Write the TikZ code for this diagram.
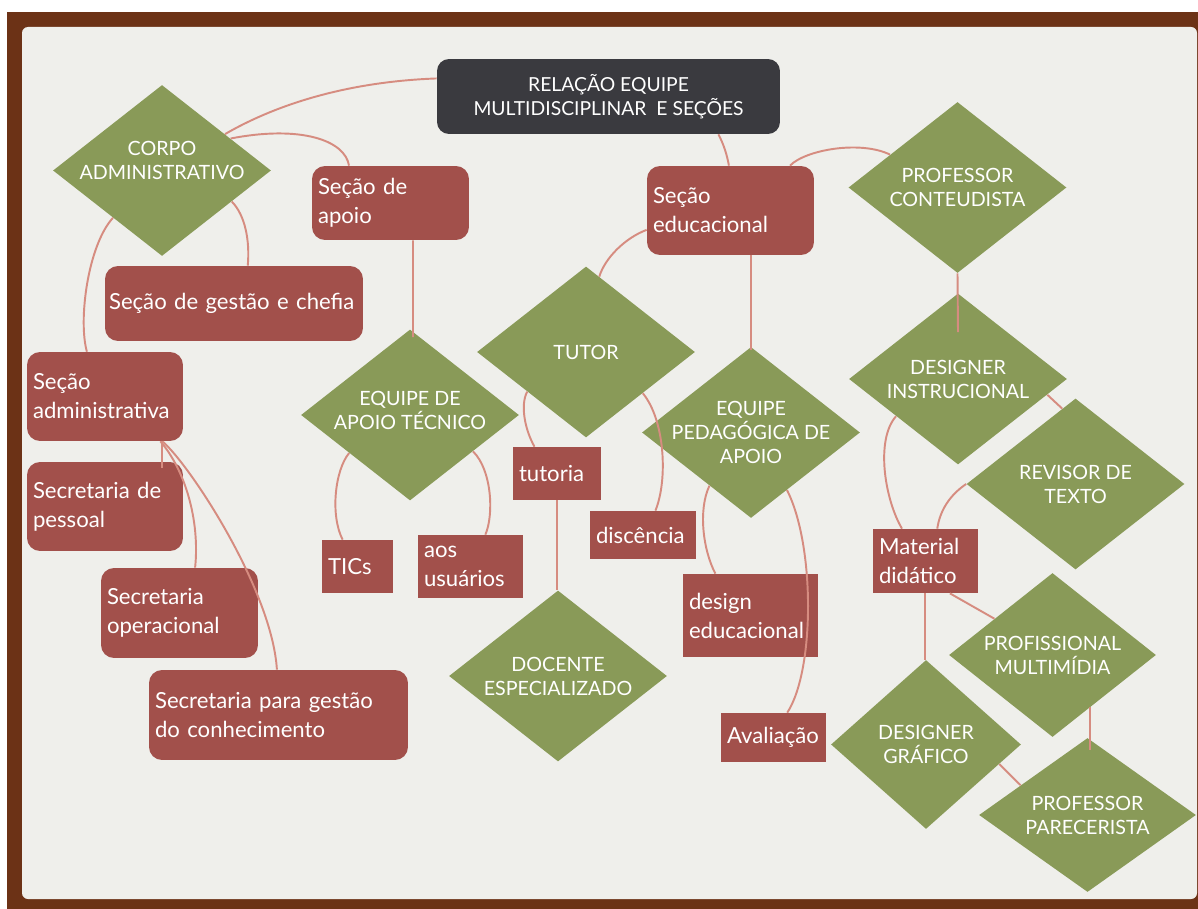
\documentclass[tikz,border=0pt]{standalone}
\usepackage{fontspec}
\setmainfont{Lato}
\usetikzlibrary{shapes.geometric}
\definecolor{frame}{RGB}{108,50,22}
\definecolor{paper}{RGB}{239,239,235}
\definecolor{olivebox}{RGB}{137,154,88}
\definecolor{redbox}{RGB}{162,80,75}
\definecolor{titlebox}{RGB}{58,58,63}
\definecolor{linkc}{RGB}{214,140,128}
\hyphenpenalty=10000

\begin{document}
\begin{tikzpicture}[
  x=0.02cm, y=-0.02cm,
  title/.style={rectangle, rounded corners=0.24cm, fill=titlebox, text=white, align=center,
                minimum width=6.86cm, minimum height=1.5cm, font=\fontsize{11}{13.5}\selectfont},
  role/.style={diamond, aspect=1.27, fill=olivebox, text=white, inner sep=-0.2cm, align=center,
               minimum width=4.36cm, minimum height=3.42cm, font=\fontsize{11.2}{13.7}\selectfont},
  sec/.style={rectangle, rounded corners=0.26cm, fill=redbox, text=white, align=left,
              inner xsep=0.12cm, inner ysep=0pt, text width=#1, font=\fontsize{12.6}{16.5}\selectfont},
  item/.style={sec=#1, sharp corners},
  link/.style={draw=linkc, line width=1.1pt},
]
\useasboundingbox (0,0) rectangle (1198,909);

% ---- board ----------------------------------------------------------------
\fill[white] (0,0) rectangle (1198,909);
\fill[frame] (7,12) rectangle (1198,909);
\fill[paper, rounded corners=0.12cm] (22,27) rectangle (1197,899);

% ---- roles and sections ---------------------------------------------------
\node[title] (titulo) at (608.5,96.5) {RELAÇÃO EQUIPE\\ MULTIDISCIPLINAR~~E SEÇÕES};

\node[role, text depth=0.4cm] (corpo) at (162,170.5) {CORPO\\ ADMINISTRATIVO};
\node[role] (conteud)  at (957.5,187.5){PROFESSOR\\ CONTEUDISTA};
\node[role, text depth=0.2cm] (apoiotec) at (410,415) {EQUIPE DE\\ APOIO TÉCNICO};
\node[role] (tutor)    at (586,352)    {TUTOR};
\node[role] (pedag)    at (751,432.5)  {EQUIPE\\ PEDAGÓGICA DE\\ APOIO};
\node[role] (instr)    at (958,379)    {DESIGNER\\ INSTRUCIONAL};
\node[role] (revisor)  at (1075.5,484) {REVISOR DE\\ TEXTO};
\node[role] (docente)  at (558,676)    {DOCENTE\\ ESPECIALIZADO};
\node[role, minimum width=4.14cm, minimum height=3.28cm] (multimidia) at (1052.5,655) {PROFISSIONAL\\ MULTIMÍDIA};
\node[role, aspect=1.12, minimum width=3.8cm, minimum height=3.38cm] (grafico) at (926,744.5) {DESIGNER\\ GRÁFICO};
\node[role, aspect=1.41, minimum width=4.34cm, minimum height=3.08cm] (parecer) at (1087.5,815) {PROFESSOR\\ PARECERISTA};

\node[sec=2.90cm, minimum height=1.48cm] (apoio)   at (390.5,203)  {Seção de\\ apoio};
\node[sec=3.10cm, minimum height=1.78cm] (educ)    at (730.5,210.5){Seção\\ educacional};
\node[sec=5.00cm, inner xsep=0.08cm, minimum height=1.50cm] (gestao) at (234,303.5) {Seção de gestão e chefia};
\node[sec=2.88cm, minimum height=1.78cm] (adm)     at (105,396.5)  {Seção\\ administrativa};
\node[sec=2.88cm, minimum height=1.78cm] (pessoal) at (105,506.5)  {Secretaria de\\ pessoal};
\node[sec=2.90cm, minimum height=1.80cm] (oper)    at (179.5,613)  {Secretaria\\ operacional};
\node[sec=4.94cm, minimum height=1.80cm] (conhec)  at (278.5,715)  {Secretaria para gestão\\ do conhecimento};

\node[item=1.52cm, minimum height=1.06cm] (tutoria)  at (557,473.5)  {tutoria};
\node[item=1.88cm, minimum height=0.96cm] (disc)     at (643,535)    {discência};
\node[item=1.18cm, minimum height=1.06cm] (tics)     at (357.5,566.5){TICs};
\node[item=1.86cm, minimum height=1.26cm] (usuarios) at (470.5,566.5){aos\\ usuários};
\node[item=2.46cm, minimum height=1.66cm] (design)   at (750.5,615.5){design\\ educacional};
\node[item=1.86cm, minimum height=0.98cm] (aval)     at (773.5,737.5){Avaliação};
\node[item=1.86cm, minimum height=1.28cm] (material) at (925.5,561)  {Material\\ didático};

% ---- links ----------------------------------------------------------------
\draw[link] (titulo.174) .. controls (340,82) and (270,108) .. (corpo.30);
\draw[link] (corpo.25) .. controls (300,125) and (345,140) .. (apoio.138);
\draw[link] (corpo.-24) .. controls (245,215) and (250,240) .. (gestao.70);
\draw[link] (corpo.224) .. controls (88,245) and (78,320) .. (adm.112);
\draw[link] (titulo.-19) .. controls (724,145) and (727,155) .. (educ.92);
\draw[link] (educ.37) .. controls (805,150) and (860,140) .. (conteud.154);

\draw[link] ([xshift=0.45cm]apoio.south) -- ([xshift=0.06cm,yshift=-0.16cm]apoiotec.north);
\draw[link] (educ.193) .. controls (625,238) and (605,258) .. (tutor.80);
\draw[link] (educ.south -| pedag.north) -- ([yshift=-0.06cm]pedag.north);
\draw[link] (conteud.south) -- ([yshift=-0.78cm]instr.north);

\draw[link] ([xshift=1.14cm]adm.south) -- ([xshift=1.14cm,yshift=-0.12cm]pessoal.north);
\draw[link] (adm.-39) .. controls (185,470) and (200,520) .. (oper.71);
\draw[link] (adm.-38) .. controls (190,465) and (272,590) .. (conhec.92);

\draw[link] (apoiotec.212) .. controls (335,470) and (330,515) .. (tics.119);
\draw[link] (apoiotec.-30) .. controls (492,470) and (494,515) .. (usuarios.65);
\draw[link] (tutor.214) .. controls (520,405) and (525,430) .. (tutoria.130);
\draw[link] (tutor.-36) .. controls (665,420) and (668,480) .. (disc.63);
\draw[link] (tutoria.south) -- (tutoria.south |- docente.north);
\draw[link] (pedag.232) .. controls (698,510) and (703,550) .. (design.130);
\draw[link] (pedag.-58) .. controls (815,545) and (815,670) .. (aval.61);

\draw[link] (instr.211) .. controls (875,440) and (885,500) .. (material.126);
\draw[link] (instr.-10) -- (revisor.100);
\draw[link] (revisor.west) .. controls (950,495) and (940,510) .. (material.70);
\draw[link] (material.-53) -- (multimidia.148);
\draw[link] ([xshift=-0.01cm]material.south) -- ([xshift=-0.01cm]material.south |- grafico.north);
\draw[link] (multimidia.-54) -- ([yshift=-0.24cm]multimidia.-54 |- parecer.north);
\draw[link] (grafico.-15) -- (parecer.156);

\end{tikzpicture}
\end{document}
